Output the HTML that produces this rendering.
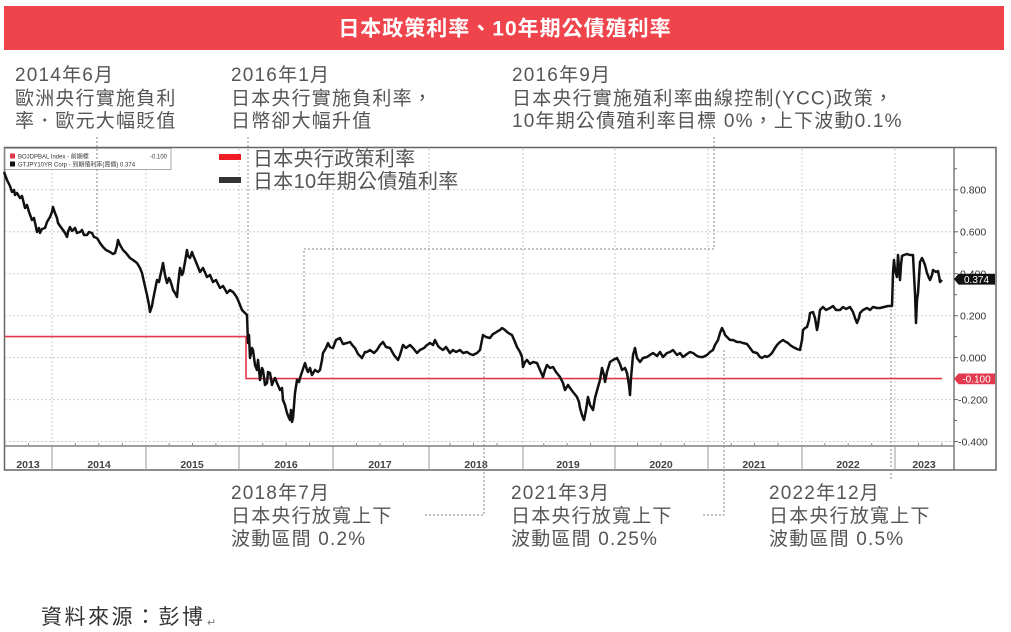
<!DOCTYPE html>
<html>
<head>
<meta charset="utf-8">
<style>
  html,body{margin:0;padding:0;background:#fff;}
  svg{display:block;}
  .cjk{font-family:"Liberation Sans","Noto Sans CJK TC",sans-serif;}
  .ann{font-size:19px;fill:#555;letter-spacing:1.2px;}
  .ax{font-family:"Liberation Sans",sans-serif;font-size:10.5px;fill:#333;}
  .yr{font-family:"Liberation Sans",sans-serif;font-size:10.5px;font-weight:bold;fill:#444;}
</style>
</head>
<body>
<svg width="1011" height="632" viewBox="0 0 1011 632" xmlns="http://www.w3.org/2000/svg">
  <rect x="0" y="0" width="1011" height="632" fill="#fff"/>

  <!-- Title bar -->
  <rect x="4" y="6" width="1000" height="44" fill="#ef444c"/>
  <text x="505" y="35.5" text-anchor="middle" class="cjk" font-size="21" font-weight="bold" fill="#fff" letter-spacing="1">日本政策利率、10年期公債殖利率</text>

  <!-- Top annotations -->
  <g class="cjk ann">
    <text x="15" y="81">2014年6月</text>
    <text x="15" y="104.5">歐洲央行實施負利</text>
    <text x="15" y="127">率．歐元大幅貶值</text>

    <text x="231" y="81">2016年1月</text>
    <text x="231" y="104.5">日本央行實施負利率，</text>
    <text x="231" y="127">日幣卻大幅升值</text>

    <text x="512" y="81">2016年9月</text>
    <text x="512" y="104.5">日本央行實施殖利率曲線控制(YCC)政策，</text>
    <text x="512" y="127">10年期公債殖利率目標 0%，上下波動0.1%</text>
  </g>

  <!-- Chart frame -->
  <rect x="4.5" y="147.5" width="991.5" height="322.5" fill="#fff" stroke="#666" stroke-width="1.5"/>

  <!-- Horizontal gridlines -->
  <g stroke="#bdbdbd" stroke-width="1" stroke-dasharray="1.5 2.5">
    <line x1="5" y1="189.8" x2="954" y2="189.8"/>
    <line x1="5" y1="231.8" x2="954" y2="231.8"/>
    <line x1="5" y1="273.7" x2="954" y2="273.7"/>
    <line x1="5" y1="315.7" x2="954" y2="315.7"/>
    <line x1="5" y1="357.6" x2="954" y2="357.6"/>
    <line x1="5" y1="399.6" x2="954" y2="399.6"/>
    <line x1="5" y1="441.5" x2="954" y2="441.5"/>
  </g>
  <!-- Vertical year gridlines -->
  <g stroke="#bdbdbd" stroke-width="1" stroke-dasharray="1.5 2.5">
    <line x1="52" y1="149" x2="52" y2="446"/>
    <line x1="146" y1="149" x2="146" y2="446"/>
    <line x1="239" y1="149" x2="239" y2="446"/>
    <line x1="333" y1="149" x2="333" y2="446"/>
    <line x1="429" y1="149" x2="429" y2="446"/>
    <line x1="523" y1="149" x2="523" y2="446"/>
    <line x1="615" y1="149" x2="615" y2="446"/>
    <line x1="708" y1="149" x2="708" y2="446"/>
    <line x1="802" y1="149" x2="802" y2="446"/>
    <line x1="895" y1="149" x2="895" y2="446"/>
  </g>

  <!-- Axes -->
  <line x1="954" y1="148" x2="954" y2="470" stroke="#666" stroke-width="1.3"/>
  <line x1="4" y1="446" x2="954" y2="446" stroke="#666" stroke-width="1.3"/>
  <!-- Year band separators -->
  <g stroke="#999" stroke-width="1">
    <line x1="52" y1="446" x2="52" y2="470"/>
    <line x1="146" y1="446" x2="146" y2="470"/>
    <line x1="239" y1="446" x2="239" y2="470"/>
    <line x1="333" y1="446" x2="333" y2="470"/>
    <line x1="429" y1="446" x2="429" y2="470"/>
    <line x1="523" y1="446" x2="523" y2="470"/>
    <line x1="615" y1="446" x2="615" y2="470"/>
    <line x1="708" y1="446" x2="708" y2="470"/>
    <line x1="802" y1="446" x2="802" y2="470"/>
    <line x1="895" y1="446" x2="895" y2="470"/>
  </g>
  <!-- Quarter ticks -->
  <g stroke="#888" stroke-width="1">
    <line x1="5" y1="443" x2="5" y2="446"/><line x1="28.6" y1="443" x2="28.6" y2="446"/>
    <line x1="75.4" y1="443" x2="75.4" y2="446"/><line x1="98.8" y1="443" x2="98.8" y2="446"/><line x1="122.3" y1="443" x2="122.3" y2="446"/>
    <line x1="169.1" y1="443" x2="169.1" y2="446"/><line x1="192.5" y1="443" x2="192.5" y2="446"/><line x1="215.9" y1="443" x2="215.9" y2="446"/>
    <line x1="262.8" y1="443" x2="262.8" y2="446"/><line x1="286.2" y1="443" x2="286.2" y2="446"/><line x1="309.6" y1="443" x2="309.6" y2="446"/>
    <line x1="356.4" y1="443" x2="356.4" y2="446"/><line x1="379.9" y1="443" x2="379.9" y2="446"/><line x1="403.3" y1="443" x2="403.3" y2="446"/>
    <line x1="450.1" y1="443" x2="450.1" y2="446"/><line x1="473.5" y1="443" x2="473.5" y2="446"/><line x1="497" y1="443" x2="497" y2="446"/>
    <line x1="543.8" y1="443" x2="543.8" y2="446"/><line x1="567.2" y1="443" x2="567.2" y2="446"/><line x1="590.6" y1="443" x2="590.6" y2="446"/>
    <line x1="637.5" y1="443" x2="637.5" y2="446"/><line x1="660.9" y1="443" x2="660.9" y2="446"/><line x1="684.3" y1="443" x2="684.3" y2="446"/>
    <line x1="731.2" y1="443" x2="731.2" y2="446"/><line x1="754.6" y1="443" x2="754.6" y2="446"/><line x1="778" y1="443" x2="778" y2="446"/>
    <line x1="824.8" y1="443" x2="824.8" y2="446"/><line x1="848.2" y1="443" x2="848.2" y2="446"/><line x1="871.7" y1="443" x2="871.7" y2="446"/>
    <line x1="918.5" y1="443" x2="918.5" y2="446"/><line x1="941.9" y1="443" x2="941.9" y2="446"/>
  </g>
  <!-- Year labels -->
  <g class="yr" text-anchor="middle">
    <text x="28" y="468">2013</text>
    <text x="99" y="468">2014</text>
    <text x="192" y="468">2015</text>
    <text x="286" y="468">2016</text>
    <text x="380" y="468">2017</text>
    <text x="476" y="468">2018</text>
    <text x="568" y="468">2019</text>
    <text x="661" y="468">2020</text>
    <text x="754" y="468">2021</text>
    <text x="848" y="468">2022</text>
    <text x="924" y="468">2023</text>
  </g>

  <!-- Right axis ticks -->
  <g stroke="#666" stroke-width="1">
    <line x1="954" y1="168.8" x2="957" y2="168.8"/>
    <line x1="954" y1="189.8" x2="958" y2="189.8"/>
    <line x1="954" y1="210.8" x2="957" y2="210.8"/>
    <line x1="954" y1="231.8" x2="958" y2="231.8"/>
    <line x1="954" y1="252.7" x2="957" y2="252.7"/>
    <line x1="954" y1="273.7" x2="958" y2="273.7"/>
    <line x1="954" y1="294.7" x2="957" y2="294.7"/>
    <line x1="954" y1="315.7" x2="958" y2="315.7"/>
    <line x1="954" y1="336.6" x2="957" y2="336.6"/>
    <line x1="954" y1="357.6" x2="958" y2="357.6"/>
    <line x1="954" y1="399.6" x2="958" y2="399.6"/>
    <line x1="954" y1="420.5" x2="957" y2="420.5"/>
    <line x1="954" y1="441.5" x2="958" y2="441.5"/>
  </g>
  <g class="ax">
    <text x="960" y="193.5">0.800</text>
    <text x="960" y="235.5">0.600</text>
    <text x="960" y="277.5">0.400</text>
    <text x="960" y="319.5">0.200</text>
    <text x="960" y="361.5">0.000</text>
    <text x="958" y="403.5">-0.200</text>
    <text x="958" y="445.5">-0.400</text>
  </g>

  <!-- Bloomberg mini legend -->
  <rect x="5" y="148.5" width="166" height="21" fill="#fff" stroke="#aaa" stroke-width="1"/>
  <rect x="10" y="153.5" width="5" height="5" fill="#e2394f"/>
  <rect x="10" y="161.5" width="5" height="5" fill="#111"/>
  <g class="cjk" font-size="6" fill="#333">
    <text x="18" y="158.5">BOJDPBAL Index - 前期標</text>
    <text x="167" y="158.5" text-anchor="end">-0.100</text>
    <text x="18" y="166.5">GTJPY10YR Corp - 到期殖利率(賣價) 0.374</text>
  </g>

  <!-- Legend -->
  <rect x="219" y="154" width="22" height="6" fill="#ee1c25"/>
  <rect x="219" y="177" width="22" height="6" fill="#333"/>
  <g class="cjk" font-size="20" fill="#555" letter-spacing="0.3">
    <text x="253" y="165.5">日本央行政策利率</text>
    <text x="253" y="188">日本10年期公債殖利率</text>
  </g>

  <!-- Annotation connectors -->
  <g stroke="#8a8a8a" stroke-width="1" stroke-dasharray="2 2" fill="none">
    <line x1="97" y1="137" x2="97" y2="236"/>
    <line x1="248" y1="137" x2="248" y2="340"/>
    <polyline points="714,137 714,249 304,249 304,356"/>
    <polyline points="425,515 484,515 484,353"/>
    <polyline points="703,515 724,515 724,350"/>
    <line x1="891" y1="305" x2="891" y2="479"/>
  </g>

  <!-- Policy rate (red) -->
  <path d="M5,336.6 H246 V378.6 H942" fill="none" stroke="#e2394f" stroke-width="1.6"/>

  <!-- 10Y JGB yield (black) -->
  <polyline fill="none" stroke="#111" stroke-width="2.5" stroke-linejoin="round" points="
4,172 7,180 10,186 12,192 14,190 15,195 17,193 20,198 22,196 23,200 25,208 27,205 29,212 32,220 34,218 37,232 39,228 40,233 42,229 45,228 47,222 50,217 52,212 53,207 55,213 57,218 58,223 60,226 63,230 65,233 67,237 68,232 70,227 72,231 75,228 77,233 80,232 82,230 84,235 87,235 89,232 92,233 94,237 97,238 100,243 103,247 106,250 110,252 113,254 115,253 117,246 118,240 120,245 123,250 126,253 130,258 133,260 137,263 140,268 142,273 144,282 147,295 149,305 150,312 152,306 153,300 155,290 157,280 159,282 160,277 162,268 163,263 165,275 167,283 169,278 170,280 172,286 173,290 175,293 177,297 178,285 180,268 182,275 183,273 185,262 187,250 188,256 190,258 192,252 193,255 196,262 200,272 203,268 207,277 210,275 213,282 216,280 220,288 223,286 227,293 230,290 233,292 236,296 238,300 240,305 242,310 245,313 247,315
248,343 249,335 250,358 252,348 253,350 255,365 257,370 258,360 260,380 262,368 263,370 265,385 267,383 268,372 270,373 272,385 273,382 275,378 277,383 280,390 282,388 283,400 285,405 287,413 289,418 290,420 291,410 292,422 293,418 295,393 297,380 299,382 300,378 302,372 305,363 307,370 308,372 310,368 312,375 315,370 318,372 320,370 322,360 323,353 326,348 328,343 330,347 333,348 336,340 340,338 343,344 347,343 350,342 353,346 355,348 358,354 362,358 365,352 367,352 370,350 374,353 377,350 380,345 383,342 386,347 390,348 394,355 398,360 400,355 403,345 406,348 410,345 413,348 417,353 420,350 424,348 427,345 430,343 433,345 435,340 438,346 440,348 443,350 446,347 450,353 453,350 456,352 460,350 463,353 467,352 470,354 473,355 477,353 480,350 482,340 483,335 486,337 490,338 493,334 495,333 498,331 500,330 502,328 505,330 507,332 510,334 512,335 515,342 517,347 520,352 522,357 523,367 525,362 527,360 530,364 533,362 537,363 540,370 543,377 545,370 547,365 550,368 553,367 556,372 560,377 563,383 565,390 568,385 570,388 573,392 577,397 579,402 580,408 582,415 584,420 586,410 588,397 590,405 593,410 595,398 598,387 600,380 602,368 604,375 605,382 607,372 610,362 613,360 617,358 620,364 622,370 625,368 627,373 629,385 630,395 631,378 632,367 633,355 635,348 637,358 640,362 643,358 647,357 650,355 653,353 657,356 660,352 663,357 667,353 670,352 673,350 677,355 680,353 683,357 687,354 690,352 693,353 697,356 700,357 703,357 707,355 710,352 713,350 715,345 718,340 720,333 722,328 724,332 725,335 727,337 730,340 733,340 737,342 740,342 743,343 747,344 750,348 753,352 757,353 760,357 762,358 765,356 767,357 770,355 772,353 775,348 777,345 780,342 783,340 786,342 788,343 790,345 793,347 797,349 800,350 802,340 803,330 805,328 807,327 809,320 810,313 813,312 815,318 817,330 818,325 820,310 823,307 826,310 830,308 833,306 836,310 840,310 843,307 846,309 850,307 853,312 855,318 857,323 859,318 860,313 863,310 867,308 870,310 873,307 877,308 880,308 884,307 888,306 892,306 893,273 894,260 895,270 897,277 898,255 900,280 901,265 902,256 904,255 907,254 910,255 913,255 914,275 915,293 916,323 917,300 918,293 920,262 922,258 923,260 925,265 927,273 929,278 930,280 932,275 933,270 936,272 938,271 939,276 940,282 942,280"/>

  <!-- Value tags -->
  <polygon points="954,279.1 958.5,273.8 995,273.8 995,284.6 958.5,284.6" fill="#111"/>
  <text x="976.5" y="283" text-anchor="middle" font-family="Liberation Sans, sans-serif" font-size="10" fill="#fff">0.374</text>
  <polygon points="954,378.8 958.5,373.5 995,373.5 995,384.3 958.5,384.3" fill="#e2394f"/>
  <text x="976.5" y="382.7" text-anchor="middle" font-family="Liberation Sans, sans-serif" font-size="10" fill="#fff">-0.100</text>

  <!-- Bottom annotations -->
  <g class="cjk ann">
    <text x="231" y="499">2018年7月</text>
    <text x="231" y="522">日本央行放寬上下</text>
    <text x="231" y="545">波動區間 0.2%</text>

    <text x="511" y="499">2021年3月</text>
    <text x="511" y="522">日本央行放寬上下</text>
    <text x="511" y="545">波動區間 0.25%</text>

    <text x="769" y="499">2022年12月</text>
    <text x="769" y="522">日本央行放寬上下</text>
    <text x="769" y="545">波動區間 0.5%</text>
  </g>

  <!-- Source -->
  <text x="41" y="624" class="cjk" font-size="21" fill="#333" letter-spacing="2.5">資料來源：彭博</text>
  <text x="207" y="626" class="cjk" font-size="11" fill="#777">↵</text>
</svg>
</body>
</html>
